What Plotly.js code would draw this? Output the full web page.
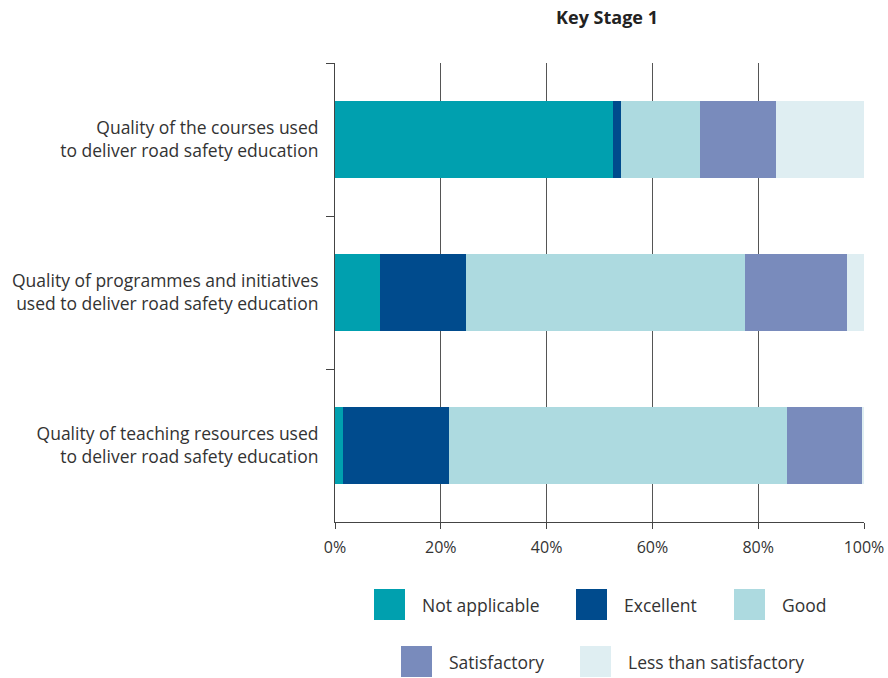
<!DOCTYPE html>
<html>
<head>
<meta charset="utf-8">
<script src="https://cdn.plot.ly/plotly-3.0.1.min.js"></script>
<style>html,body{margin:0;padding:0;background:#fff;}#chart{width:888px;height:678px;}</style>
</head>
<body>
<div id="chart"></div>
<script>
// ---- data ----
const categories = [
  "Quality of the courses used<br>to deliver road safety education",
  "Quality of programmes and initiatives<br>used to deliver road safety education",
  "Quality of teaching resources used<br>to deliver road safety education"
];
const seriesNames = ["Not applicable", "Excellent", "Good", "Satisfactory", "Less than satisfactory"];
const notApplicable = [52.6, 8.6, 1.5];
const excellent = [1.4, 16.2, 20.1];
const good = [15.0, 52.7, 63.9];
const satisfactory = [14.4, 19.2, 14.1];
const lessThanSatisfactory = [16.6, 3.3, 0.4];
const xTickVals = [0, 20, 40, 60, 80, 100];
const xTickText = ["0%", "20%", "40%", "60%", "80%", "100%"];
const chartTitle = "Key Stage 1";

// ---- styling ----
const colors = ["#00A0AF", "#004B8D", "#ADDAE0", "#798BBC", "#DFEEF2"];
const seriesValues = [notApplicable, excellent, good, satisfactory, lessThanSatisfactory];
const FONT = "Open Sans, Noto Sans, sans-serif";
const TEXT = "#333333";

const traces = seriesNames.map((name, i) => ({
  type: "bar",
  orientation: "h",
  name: name,
  y: categories,
  x: seriesValues[i],
  marker: {color: colors[i], line: {width: 0}},
  hoverinfo: "x+name"
}));

// plot area in pixels
const L = 335, R = 864, T = 63, B = 522;
const W = 888, H = 678;
const px = v => (v - L) / (R - L);
const py = v => (B - v) / (B - T);

// custom legend (two rows)
const legendSpots = [
  {x: 374, y: 589}, {x: 576, y: 589}, {x: 734, y: 589},
  {x: 401, y: 646}, {x: 580, y: 646}
];
const SW = 31;
const shapes = [];
const annotations = [];
seriesNames.forEach((name, i) => {
  const s = legendSpots[i];
  shapes.push({type: "rect", xref: "paper", yref: "paper",
    x0: px(s.x), x1: px(s.x + SW), y0: py(s.y + SW), y1: py(s.y),
    fillcolor: colors[i], line: {width: 0}});
  annotations.push({xref: "paper", yref: "paper", x: px(s.x + SW + 15), y: py(s.y + SW / 2),
    xanchor: "left", yanchor: "middle", showarrow: false, text: name,
    font: {family: FONT, size: 17.5, color: TEXT}});
});

const layout = {
  width: W, height: H,
  margin: {l: L, r: W - R, t: T, b: H - B, pad: 0},
  paper_bgcolor: "#fff", plot_bgcolor: "#fff",
  barmode: "stack",
  bargap: 0.5,
  showlegend: false,
  title: {text: "<b>" + chartTitle + "</b>", x: 607 / W, xanchor: "center", y: 1 - 18 / H, yanchor: "middle",
    font: {family: FONT, size: 18, color: "#222"}},
  xaxis: {
    range: [0, 100], tickvals: xTickVals, ticktext: xTickText,
    showgrid: true, gridcolor: "#555", gridwidth: 1,
    showline: true, linecolor: "#444", linewidth: 1,
    ticks: "outside", ticklen: 6, tickcolor: "#444",
    ticklabelstandoff: 5,
    zeroline: false, fixedrange: true,
    tickfont: {family: FONT, size: 16, color: TEXT}
  },
  yaxis: {
    type: "category", autorange: "reversed",
    showline: true, linecolor: "#444", linewidth: 1,
    ticks: "outside", ticklen: 8, tickcolor: "#444", tickson: "boundaries",
    showgrid: false, zeroline: false, fixedrange: true,
    ticklabelstandoff: 12,
    tickfont: {family: FONT, size: 17.5, color: TEXT}
  },
  shapes: shapes,
  annotations: annotations
};

Plotly.newPlot("chart", traces, layout, {displayModeBar: false, staticPlot: true});
</script>
</body>
</html>
